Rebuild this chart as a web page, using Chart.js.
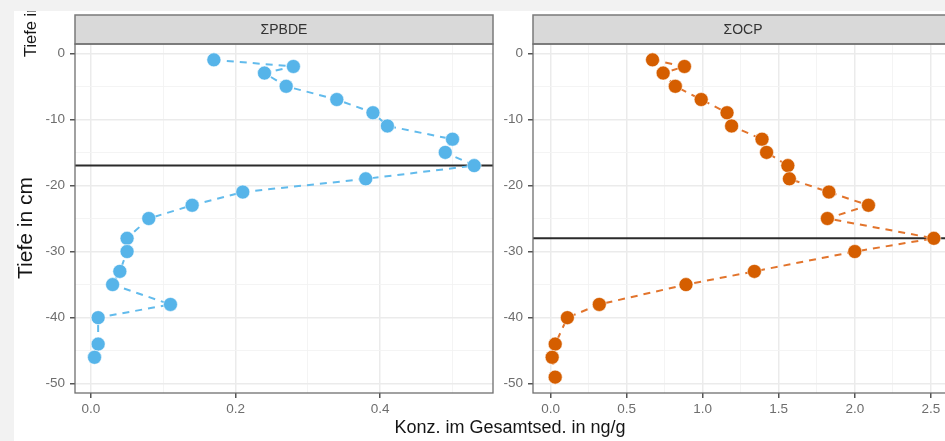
<!DOCTYPE html>
<html>
<head>
<meta charset="utf-8">
<script src="https://cdn.jsdelivr.net/npm/chart.js@4.4.1/dist/chart.umd.min.js"></script>
<style>
  html, body { margin: 0; padding: 0; background: #fff; }
  #wrap { position: relative; width: 945px; height: 441px; overflow: hidden; background: #fff;
          font-family: "Liberation Sans", Arial, sans-serif; color: #151515; }
  .band { position: absolute; background: #f2f2f2; }
  canvas { position: absolute; top: 0; }
  .rot { position: absolute; white-space: nowrap; line-height: 1;
         transform: translate(-50%, -50%) rotate(-90deg); }
  #clipTop { position: absolute; left: 14px; top: 11px; width: 40px; height: 60px; overflow: hidden; }
  #xTitle { position: absolute; left: 510px; top: 427px; transform: translate(-50%, -50%);
            font-size: 18px; line-height: 1; white-space: nowrap; }
</style>
</head>
<body>
<div id="wrap">
  <div class="band" style="left:0;top:0;width:945px;height:11px"></div>
  <div class="band" style="left:0;top:0;width:14px;height:441px"></div>
  <canvas id="pbde" width="496" height="441" style="left:0"></canvas>
  <canvas id="ocp" width="480" height="441" style="left:493px"></canvas>
  <div id="clipTop"><span class="rot" style="left:16px;top:6px;font-size:16.5px">Tiefe in cm</span></div>
  <span class="rot" style="left:24px;top:228px;font-size:21px">Tiefe in cm</span>
  <div id="xTitle">Konz. im Gesamtsed. in ng/g</div>
</div>
<script>
// depth profiles (cm) and concentrations (ng/g)
const depthPBDE = [-1, -2, -3, -5, -7, -9, -11, -13, -15, -17, -19, -21, -23, -25, -28, -30, -33, -35, -38, -40, -44, -46];
const concPBDE = [0.17, 0.28, 0.24, 0.27, 0.34, 0.39, 0.41, 0.50, 0.49, 0.53, 0.38, 0.21, 0.14, 0.08, 0.05, 0.05, 0.04, 0.03, 0.11, 0.01, 0.01, 0.005];
const depthOCP = [-1, -2, -3, -5, -7, -9, -11, -13, -15, -17, -19, -21, -23, -25, -28, -30, -33, -35, -38, -40, -44, -46, -49];
const concOCP = [0.67, 0.88, 0.74, 0.82, 0.99, 1.16, 1.19, 1.39, 1.42, 1.56, 1.57, 1.83, 2.09, 1.82, 2.52, 2.00, 1.34, 0.89, 0.32, 0.11, 0.03, 0.01, 0.03];

// depth of the horizontal marker line per panel
const cutPBDE = -17;
const cutOCP = -28;

// ticks
const yTicks = [-50, -40, -30, -20, -10, 0];
const yMinor = [-45, -35, -25, -15, -5];
const xTicksPBDE = [0, 0.2, 0.4];
const xMinorPBDE = [0.1, 0.3, 0.5];
const xTicksOCP = [0, 0.5, 1, 1.5, 2, 2.5];
const xMinorOCP = [0.25, 0.75, 1.25, 1.75, 2.25];

// axis limits (ggplot 5% expansion)
const yLimits = [-51.4, 1.4];
const xLimitsPBDE = [-0.022, 0.556];
const xLimitsOCP = [-0.116, 2.646];

Chart.defaults.font.family = '"Liberation Sans", Arial, sans-serif';

const tickFont = { size: 13.5 };
const tickColor = '#6e6e6e';

function has(list, v) {
  return list.some(t => Math.abs(t - v) < 1e-9);
}

function axisTicks(major, minor) {
  return scale => {
    scale.ticks = major.concat(minor).sort((a, b) => a - b).map(v => ({ value: v }));
  };
}

function gridFor(major) {
  return {
    color: ctx => (ctx.tick && has(major, ctx.tick.value)) ? '#ebebeb' : '#f3f3f3',
    lineWidth: ctx => (ctx.tick && has(major, ctx.tick.value)) ? 1.5 : 0.9,
    tickColor: ctx => (ctx.tick && has(major, ctx.tick.value)) ? '#555' : 'rgba(0,0,0,0)',
    tickLength: 5,
    drawTicks: true
  };
}

function facetPlugin(label, cut) {
  return {
    id: 'facet',
    beforeDatasetsDraw(chart) {
      const a = chart.chartArea;
      const y = chart.scales.y.getPixelForValue(cut);
      const ctx = chart.ctx;
      ctx.save();
      ctx.strokeStyle = '#2b2b2b';
      ctx.lineWidth = 2;
      ctx.beginPath();
      ctx.moveTo(a.left, y);
      ctx.lineTo(a.right, y);
      ctx.stroke();
      ctx.restore();
    },
    afterDraw(chart) {
      const a = chart.chartArea;
      const ctx = chart.ctx;
      ctx.save();
      // strip
      ctx.fillStyle = '#d9d9d9';
      ctx.fillRect(a.left, 15, a.right - a.left, a.top - 15);
      ctx.strokeStyle = '#7a7a7a';
      ctx.lineWidth = 1.5;
      ctx.strokeRect(a.left, 15, a.right - a.left, a.top - 15);
      ctx.fillStyle = '#333';
      ctx.font = '14px "Liberation Sans", Arial, sans-serif';
      ctx.textAlign = 'center';
      ctx.textBaseline = 'middle';
      ctx.fillText(label, (a.left + a.right) / 2, (15 + a.top) / 2 + 1);
      // panel border
      ctx.strokeStyle = '#6f6f6f';
      ctx.lineWidth = 1.3;
      ctx.strokeRect(a.left, a.top, a.right - a.left, a.bottom - a.top);
      ctx.restore();
    }
  };
}

function makePanel(id, label, xs, ys, cut, pointColor, lineColor, xLim, xMajor, xMinor, pad, yWidth) {
  const pts = xs.map((x, i) => ({ x: x, y: ys[i] }));
  return new Chart(document.getElementById(id).getContext('2d'), {
    type: 'scatter',
    data: {
      datasets: [{
        data: pts,
        showLine: true,
        borderColor: lineColor,
        borderWidth: 2,
        borderDash: [7, 6],
        backgroundColor: pointColor,
        pointBackgroundColor: pointColor,
        pointBorderColor: 'rgba(255,255,255,0.55)',
        pointBorderWidth: 1,
        pointRadius: 7,
        pointHoverRadius: 7
      }]
    },
    options: {
      responsive: false,
      animation: false,
      events: [],
      layout: { autoPadding: false, padding: pad },
      plugins: { legend: { display: false }, tooltip: { enabled: false } },
      scales: {
        x: {
          type: 'linear',
          min: xLim[0],
          max: xLim[1],
          afterBuildTicks: axisTicks(xMajor, xMinor),
          afterFit: s => { s.height = 48; },
          ticks: {
            autoSkip: false,
            maxRotation: 0,
            padding: 3,
            color: tickColor,
            font: tickFont,
            callback: v => has(xMajor, v) ? v.toFixed(1) : ''
          },
          grid: gridFor(xMajor),
          border: { display: false }
        },
        y: {
          type: 'linear',
          min: yLimits[0],
          max: yLimits[1],
          afterBuildTicks: axisTicks(yTicks, yMinor),
          afterFit: s => { s.width = yWidth; },
          ticks: {
            autoSkip: false,
            padding: 5,
            color: tickColor,
            font: tickFont,
            callback: v => has(yTicks, v) ? String(v) : ''
          },
          grid: gridFor(yTicks),
          border: { display: false }
        }
      }
    },
    plugins: [facetPlugin(label, cut)]
  });
}

makePanel('pbde', 'ΣPBDE', concPBDE, depthPBDE, cutPBDE, '#56B4E9', '#62bbec',
  xLimitsPBDE, xTicksPBDE, xMinorPBDE, { left: 30, right: 3, top: 44, bottom: 0 }, 45);

makePanel('ocp', 'ΣOCP', concOCP, depthOCP, cutOCP, '#D55E00', '#e2742c',
  xLimitsOCP, xTicksOCP, xMinorOCP, { left: 4, right: 20, top: 44, bottom: 0 }, 36);
</script>
</body>
</html>
